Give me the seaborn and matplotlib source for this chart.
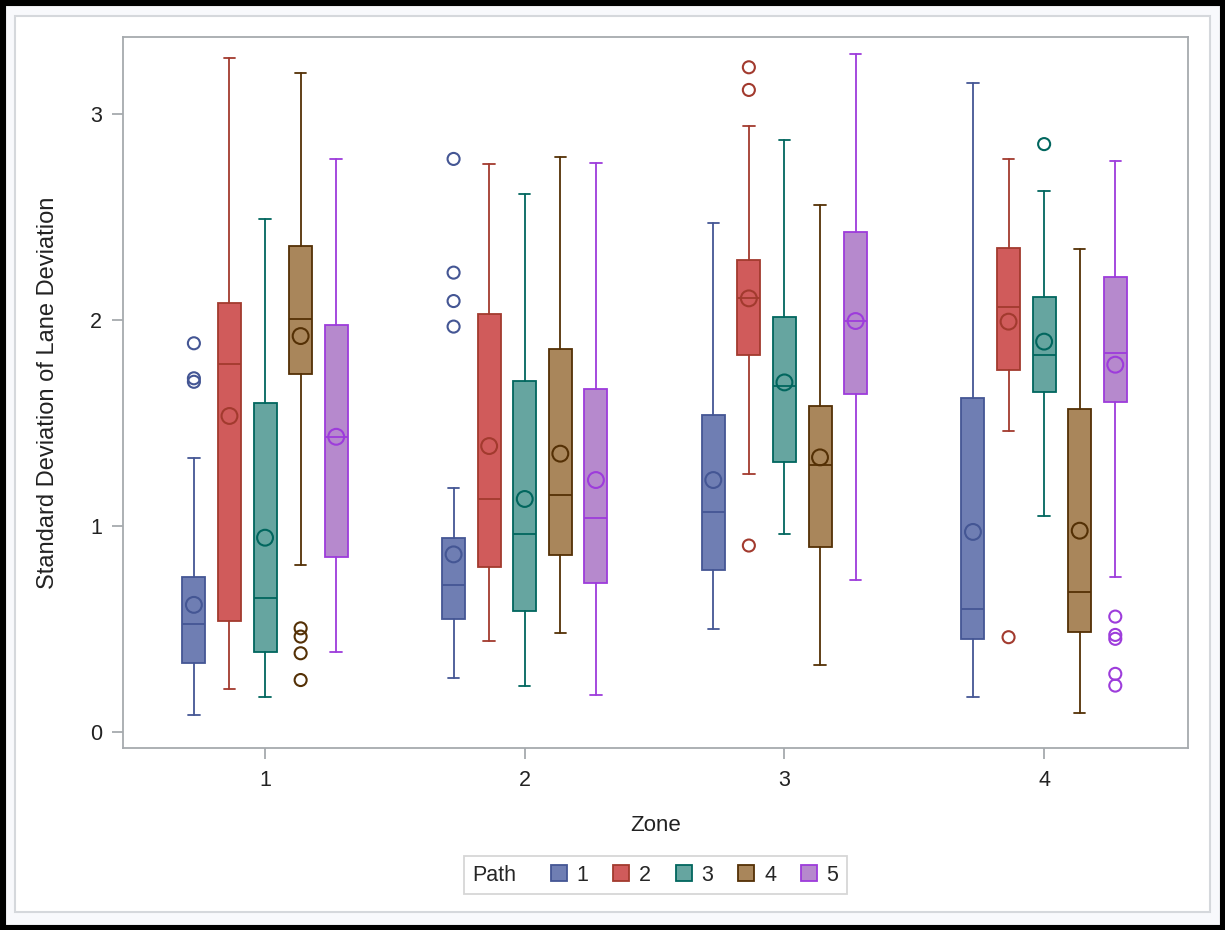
import numpy as np
import pandas as pd
import matplotlib
matplotlib.use("Agg")
import matplotlib.pyplot as plt
import seaborn as sns
from matplotlib.patches import Patch, Rectangle
from matplotlib.offsetbox import HPacker

# ---------------------------------------------------- #
# datos (filas = Path, columnas = Zone)
zones = [1, 2, 3, 4]
paths = ["1", "2", "3", "4", "5"]

whisker_low = [[0.08, 0.26, 0.50, 0.17],
               [0.21, 0.44, 1.25, 1.46],
               [0.17, 0.225, 0.96, 1.05],
               [0.81, 0.48, 0.325, 0.09],
               [0.39, 0.18, 0.74, 0.75]]
q1 = [[0.333, 0.55, 0.788, 0.451],
      [0.54, 0.803, 1.83, 1.756],
      [0.388, 0.587, 1.312, 1.649],
      [1.738, 0.859, 0.896, 0.487],
      [0.851, 0.723, 1.641, 1.603]]
median = [[0.524, 0.715, 1.068, 0.597],
          [1.786, 1.131, 2.105, 2.065],
          [0.652, 0.960, 1.680, 1.829],
          [2.003, 1.149, 1.296, 0.678],
          [1.43, 1.040, 1.995, 1.838]]
q3 = [[0.754, 0.942, 1.539, 1.621],
      [2.084, 2.029, 2.293, 2.348],
      [1.595, 1.702, 2.013, 2.112],
      [2.36, 1.858, 1.584, 1.566],
      [1.976, 1.667, 2.429, 2.210]]
whisker_high = [[1.33, 1.186, 2.473, 3.152],
                [3.27, 2.756, 2.943, 2.782],
                [2.49, 2.610, 2.872, 2.628],
                [3.20, 2.791, 2.557, 2.346],
                [2.78, 2.764, 3.290, 2.773]]
mean = [[0.617, 0.862, 1.223, 0.971],
        [1.534, 1.388, 2.105, 1.992],
        [0.943, 1.131, 1.697, 1.895],
        [1.922, 1.351, 1.333, 0.977],
        [1.433, 1.223, 1.995, 1.783]]

outlier_path = ["1", "1", "1", "4", "4", "4", "4", "1", "1", "1", "1",
                "2", "2", "2", "2", "3", "5", "5", "5", "5", "5"]
outlier_zone = [1, 1, 1, 1, 1, 1, 1, 2, 2, 2, 2,
                3, 3, 3, 4, 4, 4, 4, 4, 4, 4]
outlier_value = [1.887, 1.717, 1.70, 0.503, 0.463, 0.382, 0.252,
                 2.782, 2.230, 2.092, 1.968,
                 3.227, 3.117, 0.905, 0.460, 2.854,
                 0.560, 0.471, 0.452, 0.282, 0.225]

fill_colors = ["#6F7EB3", "#D05B5B", "#66A5A0", "#A9865B", "#B689CD"]
line_colors = ["#445694", "#A23A2E", "#01665E", "#543005", "#9D3CDB"]

# ---------------------------------------------------- #
sns.set_style("white")
plt.rcParams["font.family"] = ["Liberation Sans", "DejaVu Sans"]

fig = plt.figure(figsize=(12.25, 9.3), dpi=100, facecolor="#F8F9FC")
fig.patches.append(Rectangle((15 / 1225, 1 - 912 / 930), 1195 / 1225, 896 / 930,
                             transform=fig.transFigure, facecolor="white",
                             edgecolor="#D5D8DC", lw=1.5, zorder=-5))
fig.patches.append(Rectangle((0, 0), 1, 1, transform=fig.transFigure,
                             fill=False, edgecolor="black", lw=8, zorder=10))

ax = fig.add_axes([123 / 1225, 1 - 748 / 930, 1065 / 1225, 711 / 930])
ax.set_zorder(1)

step = 0.137
width = 0.0886
for i, p in enumerate(paths):
    off = (i - 2) * step
    stats = []
    for j, z in enumerate(zones):
        stats.append({"med": median[i][j], "q1": q1[i][j], "q3": q3[i][j],
                      "whislo": whisker_low[i][j], "whishi": whisker_high[i][j],
                      "fliers": []})
    lc = line_colors[i]
    ax.bxp(stats, positions=[z + off for z in zones], widths=width,
           capwidths=width * 0.5, patch_artist=True, showfliers=False,
           boxprops=dict(facecolor=fill_colors[i], edgecolor=lc, lw=1.3),
           medianprops=dict(color=lc, lw=1.3),
           whiskerprops=dict(color=lc, lw=1.3),
           capprops=dict(color=lc, lw=1.3),
           manage_ticks=False)

# medias
mean_df = pd.DataFrame({
    "Path": [p for p in paths for z in zones],
    "x": [z + (i - 2) * step for i, p in enumerate(paths) for z in zones],
    "mean": [mean[i][j] for i in range(len(paths)) for j in range(len(zones))],
})
sns.scatterplot(data=mean_df, x="x", y="mean", hue="Path", palette=line_colors,
                hue_order=paths, s=130, marker="o", linewidth=1.5, legend=False,
                ax=ax, zorder=5)
coll = ax.collections[-1]
coll.set_edgecolors(coll.get_facecolors())
coll.set_facecolors("none")

# atípicos
out_df = pd.DataFrame({"Path": outlier_path, "zone": outlier_zone, "value": outlier_value})
out_df["x"] = out_df["zone"] + (out_df["Path"].astype(int) - 3) * step
sns.scatterplot(data=out_df, x="x", y="value", hue="Path", palette=line_colors,
                hue_order=paths, s=75, marker="o", linewidth=1.5, legend=False,
                ax=ax, zorder=5)
coll = ax.collections[-1]
coll.set_edgecolors(coll.get_facecolors())
coll.set_facecolors("none")

ax.set_xlim(0.453, 4.554)
ax.set_ylim(-0.078, 3.374)
ax.set_xticks(zones)
ax.set_xticklabels([str(z) for z in zones])
ax.set_yticks([0, 1, 2, 3])
for s in ax.spines.values():
    s.set_color("#A6AAAE")
    s.set_linewidth(1.3)
ax.tick_params(axis="both", which="major", length=8, width=1.3, color="#A6AAAE",
               labelsize=15.5, labelcolor="#222222", direction="out",
               left=True, bottom=True)
ax.tick_params(axis="y", pad=7)
ax.tick_params(axis="x", pad=8)
ax.set_xlabel("Zone", fontsize=16, color="#222222", labelpad=17)
ax.set_ylabel("Standard Deviation of Lane Deviation", fontsize=17,
              color="#222222", labelpad=22)

# leyenda horizontal con el título a la izquierda
handles = [Patch(facecolor=fill_colors[i], edgecolor=line_colors[i], lw=1.3)
           for i in range(len(paths))]
leg = fig.legend(handles=handles, labels=paths, title="Path", ncol=5,
                 loc="center", bbox_to_anchor=(0.535, 0.059),
                 fontsize=15.5, title_fontsize=15.5, frameon=True, fancybox=False,
                 edgecolor="#CCCCCC", handlelength=0.75, handleheight=0.75,
                 handletextpad=0.45, columnspacing=1.15, borderpad=0.4)
leg.get_frame().set_linewidth(1.3)
fs = leg._fontsize
leg._legend_box = HPacker(pad=leg.borderpad * fs, sep=1.6 * fs, align="center",
                          children=[leg._legend_title_box, leg._legend_handle_box])
leg._legend_box.set_figure(fig)
leg._set_loc(leg._loc)

fig.savefig("out.png", dpi=100, facecolor=fig.get_facecolor())
